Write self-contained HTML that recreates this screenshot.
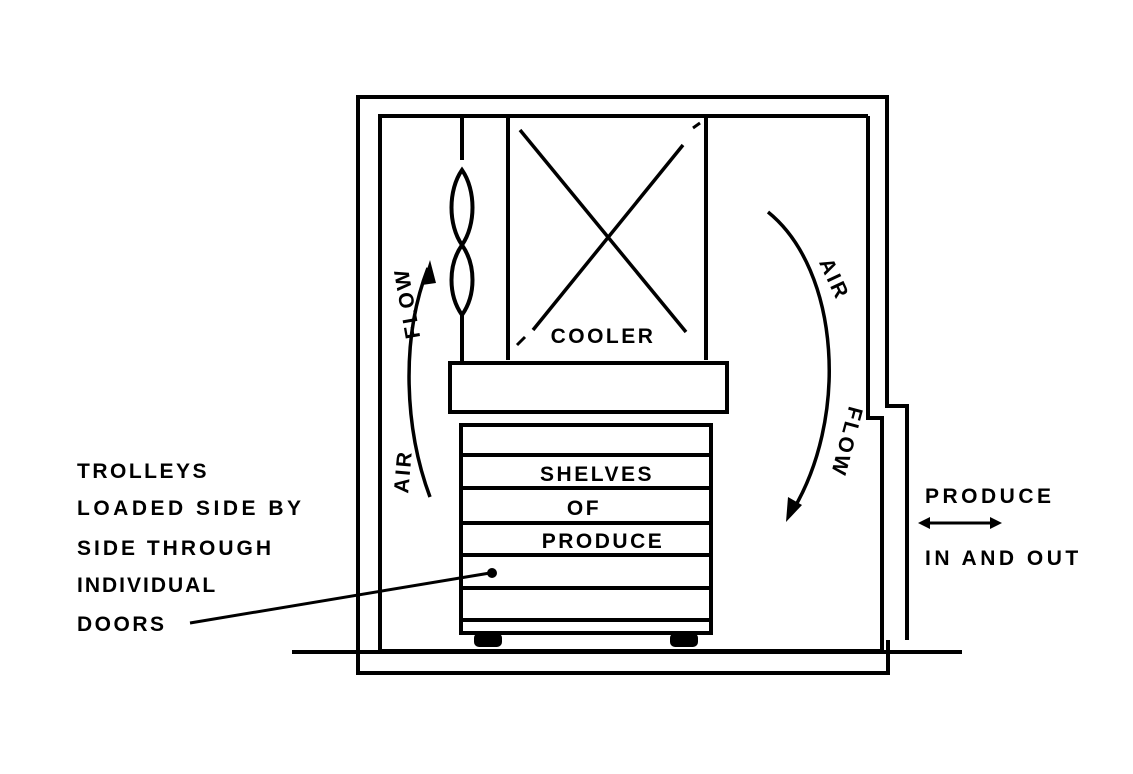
<!DOCTYPE html>
<html><head><meta charset="utf-8"><style>html,body{margin:0;padding:0;background:#fff}svg{display:block}</style></head><body>
<svg width="1133" height="774" viewBox="0 0 1133 774" xmlns="http://www.w3.org/2000/svg">
<g fill="none" stroke="#000" stroke-width="4" stroke-linejoin="miter">
<polyline points="888,640 888,673 358,673 358,97 887,97 887,406 907,406 907,640"/>
<polyline points="868,116 380,116 380,651 882,651 882,418 868,418 868,116"/>
<line x1="292" y1="652" x2="962" y2="652"/>
<line x1="462" y1="116" x2="462" y2="160"/>
<path d="M462,170 C448,190 448,225 462,245 C476,225 476,190 462,170 Z"/>
<path d="M462,245 C448,265 448,295 462,315 C476,295 476,265 462,245 Z"/>
<line x1="462" y1="315" x2="462" y2="362"/>
<line x1="508" y1="116" x2="508" y2="360"/>
<line x1="706" y1="116" x2="706" y2="360"/>
<line x1="520" y1="130" x2="686" y2="332" stroke-width="3.5"/>
<line x1="683" y1="145" x2="533" y2="330" stroke-width="3.5"/>
<line x1="517" y1="345" x2="525" y2="337" stroke-width="3"/>
<line x1="693" y1="128" x2="700" y2="123" stroke-width="3"/>
<rect x="450" y="363" width="277" height="49"/>
<rect x="461" y="425" width="250" height="208"/>
<line x1="461" y1="455" x2="711" y2="455"/>
<line x1="461" y1="488" x2="711" y2="488"/>
<line x1="461" y1="523" x2="711" y2="523"/>
<line x1="461" y1="555" x2="711" y2="555"/>
<line x1="461" y1="588" x2="711" y2="588"/>
<line x1="461" y1="620" x2="711" y2="620"/>
<line x1="190" y1="623" x2="490" y2="573" stroke-width="3"/>
<path d="M430,497 C405,430 400,340 428,268" stroke-width="3.5"/>
<path d="M768,212 C840,270 850,420 790,515" stroke-width="3.5"/>
<line x1="922" y1="523" x2="998" y2="523" stroke-width="3"/>
</g>
<g fill="#000">
<rect x="474" y="633" width="28" height="14" rx="5"/>
<rect x="670" y="633" width="28" height="14" rx="5"/>
<circle cx="492" cy="573" r="5"/>
<polygon points="430,260 422,285 436,283"/>
<polygon points="786,522 788,497 802,505"/>
<polygon points="918,523 930,517 930,529"/>
<polygon points="1002,523 990,517 990,529"/>
</g>
<g font-family="'Liberation Sans',sans-serif" font-weight="bold" font-size="21" fill="#000" letter-spacing="2.5">
<text x="603" y="343" text-anchor="middle">COOLER</text>
<text x="597" y="481" text-anchor="middle">SHELVES</text>
<text x="584" y="515" text-anchor="middle">OF</text>
<text x="603" y="548" text-anchor="middle">PRODUCE</text>
<text x="77" y="478">TROLLEYS</text>
<text x="77" y="515" letter-spacing="3.5">LOADED SIDE BY</text>
<text x="77" y="555" letter-spacing="3">SIDE THROUGH</text>
<text x="77" y="592" letter-spacing="2">INDIVIDUAL</text>
<text x="77" y="631">DOORS</text>
<text x="925" y="503" letter-spacing="3.5">PRODUCE</text>
<text x="925" y="565" letter-spacing="3.5">IN AND OUT</text>
<text transform="translate(410,472) rotate(-85)" text-anchor="middle">AIR</text>
<text transform="translate(414,302) rotate(-100)" text-anchor="middle">FLOW</text>
<text transform="translate(828,282) rotate(65)" text-anchor="middle">AIR</text>
<text transform="translate(840,440) rotate(105)" text-anchor="middle">FLOW</text>
</g>
</svg>
</body></html>
